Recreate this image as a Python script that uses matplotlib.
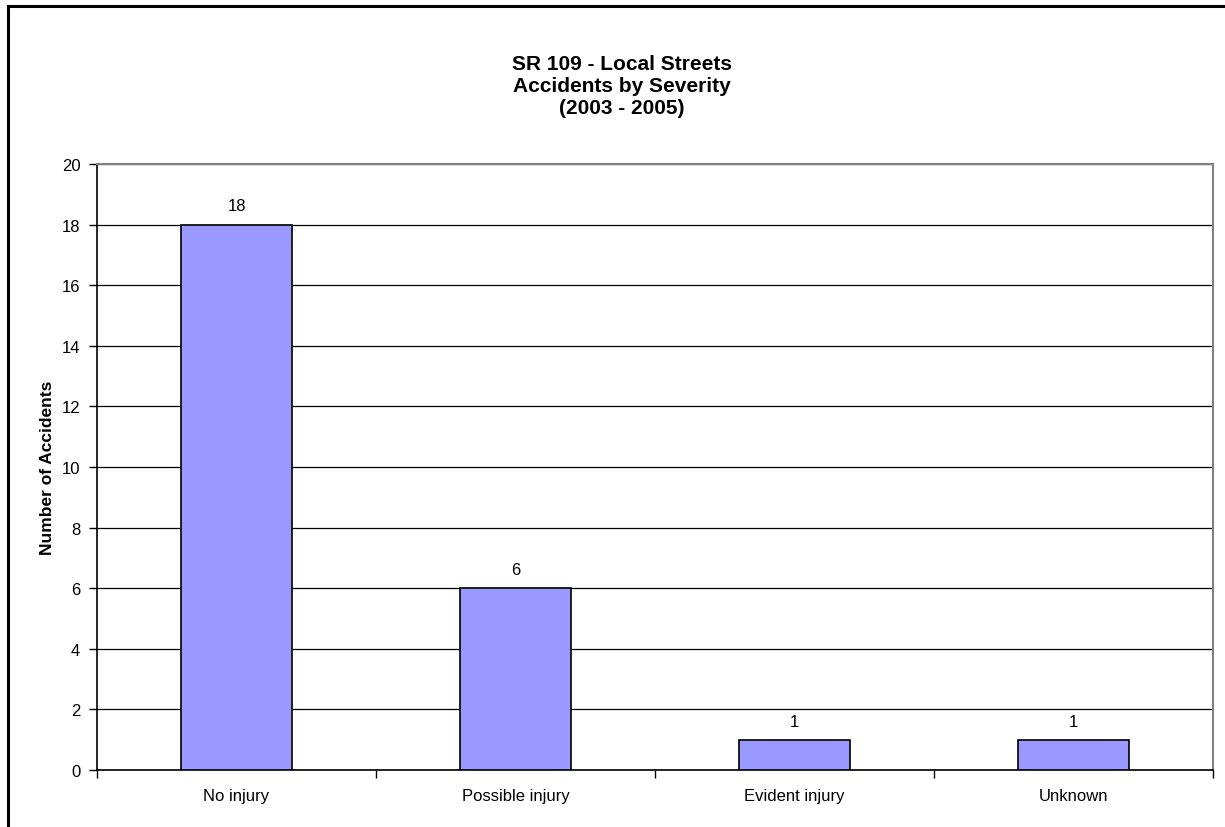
import numpy as np
import matplotlib.pyplot as plt
from matplotlib.patches import Rectangle

plt.rcParams['font.family'] = ['Liberation Sans', 'DejaVu Sans']

categories = ["No injury", "Possible injury", "Evident injury", "Unknown"]
counts = [18, 6, 1, 1]

fig = plt.figure(figsize=(12.25, 8.28), dpi=100)

# outer chart border (only left and top fall inside the image)
fig.patches.append(Rectangle((8 / 1225, -0.05), 1.2, 1 - 7 / 828 + 0.05,
                             transform=fig.transFigure, fill=False,
                             edgecolor='black', linewidth=2.2))

ax = fig.add_axes([97 / 1225, 1 - 771 / 828, (1213 - 97) / 1225, (771 - 165) / 828])

x = np.arange(len(categories))
bars = ax.bar(x, counts, width=0.4, color='#9999FF', edgecolor='black',
              linewidth=1.2, zorder=3)

for xi, v in zip(x, counts):
    ax.annotate(str(v), (xi, v), xytext=(0, 8), textcoords='offset points',
                ha='center', va='bottom', fontsize=12)

ax.set_xlim(-0.5, len(categories) - 0.5)
ax.set_ylim(0, 20)
ax.set_yticks(range(0, 21, 2))
ax.yaxis.grid(True, color='black', linewidth=0.9, zorder=0)

# category labels centred, ticks on the boundaries
ax.set_xticks(np.arange(-0.5, len(categories)), minor=False)
ax.set_xticklabels([])
ax.set_xticks(x, minor=True)
ax.set_xticklabels(categories, minor=True, fontsize=12)
ax.tick_params(axis='x', which='minor', length=0, pad=13)
ax.tick_params(axis='x', which='major', length=6, direction='out', width=1)
ax.tick_params(axis='y', length=6, direction='out', width=1, labelsize=12, pad=6)

for side in ['top', 'right']:
    ax.spines[side].set_color('#808080')
    ax.spines[side].set_linewidth(1.5)
for side in ['left', 'bottom']:
    ax.spines[side].set_color('black')
    ax.spines[side].set_linewidth(1.2)

ax.set_ylabel("Number of Accidents", fontsize=12.5, fontweight='bold', labelpad=5)

fig.text(622 / 1225, 1 - 87 / 828,
         "SR 109 - Local Streets\nAccidents by Severity\n(2003 - 2005)",
         ha='center', va='center', fontsize=15, fontweight='bold', linespacing=1.2)

fig.savefig("out.png", dpi=100)
